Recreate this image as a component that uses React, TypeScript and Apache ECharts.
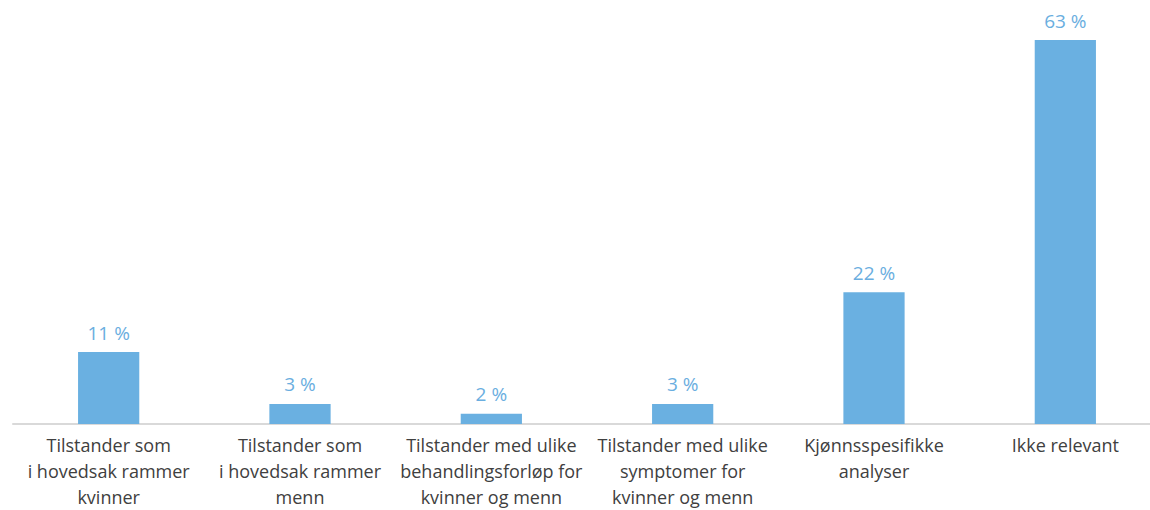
import React, { useEffect, useRef } from "react";
import * as echarts from "echarts";

const categories: string[] = [
  "Tilstander som\ni hovedsak rammer\nkvinner",
  "Tilstander som\ni hovedsak rammer\nmenn",
  "Tilstander med ulike\nbehandlingsforløp for\nkvinner og menn",
  "Tilstander med ulike\nsymptomer for\nkvinner og menn",
  "Kjønnsspesifikke\nanalyser",
  "Ikke relevant",
];
const values: number[] = [11.8, 3.3, 1.7, 3.3, 21.6, 63];
const labelValues: number[] = [11, 3, 2, 3, 22, 63];

export default function App() {
  const ref = useRef<HTMLDivElement>(null);
  useEffect(() => {
    if (!ref.current) return;
    const chart = echarts.init(ref.current, undefined, { renderer: "svg" });
    chart.setOption({
      animation: false,
      grid: { left: 13, right: 0, top: 40, bottom: 84, containLabel: false },
      xAxis: {
        type: "category",
        data: categories,
        axisLine: { lineStyle: { color: "#d9d9d9", width: 2 } },
        axisTick: { show: false },
        axisLabel: {
          interval: 0,
          color: "#404040",
          fontFamily: "Open Sans",
          fontSize: 18,
          lineHeight: 26,
          margin: 8,
        },
      },
      yAxis: { type: "value", min: 0, max: 63, show: false, splitLine: { show: false } },
      series: [
        {
          type: "bar",
          data: values,
          barWidth: "32%",
          itemStyle: { color: "#6ab0e1" },
          label: {
            show: true,
            position: "top",
            distance: 10,
            color: "#6aaee0",
            fontFamily: "Open Sans",
            fontSize: 19,
            formatter: (p: any) => labelValues[p.dataIndex] + " %",
          },
        },
      ],
    });
    return () => chart.dispose();
  }, []);
  return (
    <div
      style={{ position: "fixed", left: 0, top: 0, width: 1150, height: 510, overflow: "hidden", background: "#fff" }}
    >
      <div ref={ref} style={{ width: 1161, height: 510 }} />
    </div>
  );
}
